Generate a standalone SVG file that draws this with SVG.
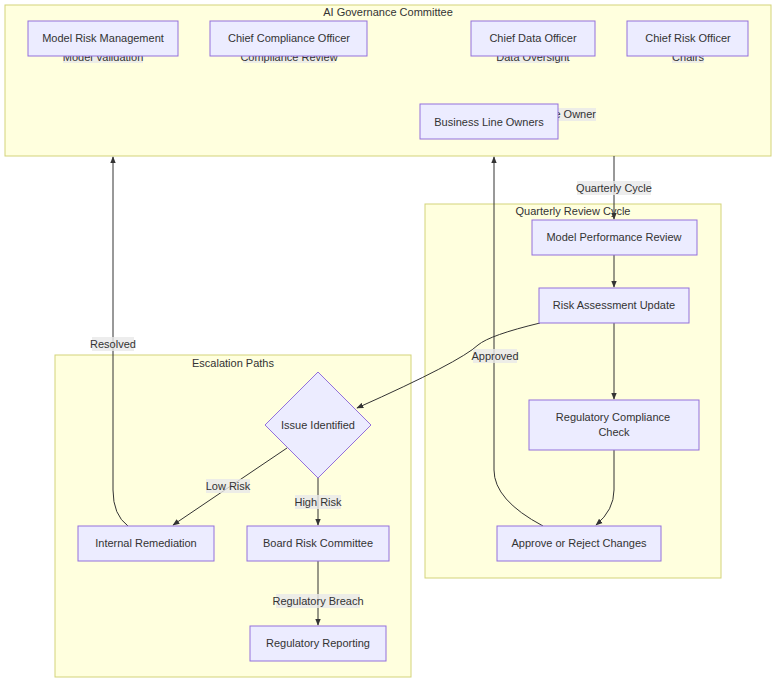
<svg xmlns="http://www.w3.org/2000/svg" width="784" height="690" viewBox="0 0 784 690">
<style>
text{font-family:"Liberation Sans",Arial,sans-serif;font-size:11px;fill:#333;text-anchor:middle;dominant-baseline:central}
.cl{fill:#ffffde;stroke:#d3d37a;stroke-width:1}
.n rect,.n polygon{fill:#ececff;stroke:#9370db;stroke-width:1}
.e{fill:none;stroke:#333;stroke-width:1}
.lb{fill:#e8e8e8;opacity:0.8}
</style>
<defs><marker id="a" viewBox="0 0 10 10" refX="9" refY="5" markerWidth="7" markerHeight="7" orient="auto"><path d="M0,1L10,5L0,9z" fill="#333"/></marker></defs>
<g id="clusters">
<rect class="cl" x="5" y="5" width="766" height="151"/><text x="388" y="12">AI Governance Committee</text>
<rect class="cl" x="425" y="204" width="296" height="374"/><text x="573" y="211">Quarterly Review Cycle</text>
<rect class="cl" x="55" y="355" width="356" height="322"/><text x="233" y="363">Escalation Paths</text>
</g>
<g id="hidden-labels">
<rect class="lb" x="63" y="51" width="80" height="12"/><text x="103" y="57">Model Validation</text>
<rect class="lb" x="243" y="51" width="92" height="12"/><text x="289" y="57">Compliance Review</text>
<rect class="lb" x="497" y="51" width="72" height="12"/><text x="533" y="57">Data Oversight</text>
<rect class="lb" x="672" y="51" width="32" height="12"/><text x="688" y="57">Chairs</text>
<rect class="lb" x="540" y="108" width="56" height="13"/><text x="596" y="114" style="text-anchor:end">e Owner</text>
</g>
<g id="connectors">
<path class="e" d="M614,156V219" marker-end="url(#a)"/>
<path class="e" d="M614,255V287" marker-end="url(#a)"/>
<path class="e" d="M614,323V399" marker-end="url(#a)"/>
<path class="e" d="M614,450V490Q614,510 596,525" marker-end="url(#a)"/>
<path class="e" d="M543,526Q494,500 494,470V157" marker-end="url(#a)"/>
<path class="e" d="M540,323Q490,335 478,345Q460,362 357,408" marker-end="url(#a)"/>
<path class="e" d="M287,448L173,525" marker-end="url(#a)"/>
<path class="e" d="M318,478V525" marker-end="url(#a)"/>
<path class="e" d="M318,561V625" marker-end="url(#a)"/>
<path class="e" d="M128,526Q113,515 113,490V157" marker-end="url(#a)"/>
<rect class="lb" x="577" y="181" width="74" height="14"/><text x="614" y="188">Quarterly Cycle</text>
<rect class="lb" x="473" y="349" width="44" height="14"/><text x="495" y="356">Approved</text>
<rect class="lb" x="206" y="479" width="44" height="14"/><text x="228" y="486">Low Risk</text>
<rect class="lb" x="295" y="495" width="46" height="14"/><text x="318" y="502">High Risk</text>
<rect class="lb" x="276" y="594" width="84" height="14"/><text x="318" y="601">Regulatory Breach</text>
<rect class="lb" x="92" y="337" width="42" height="14"/><text x="113" y="344">Resolved</text>
</g>
<g id="mrm" class="n"><rect x="28" y="21" width="150" height="35"/><text x="103" y="38">Model Risk Management</text></g>
<g id="cco" class="n"><rect x="210" y="21" width="157" height="35"/><text x="289" y="38">Chief Compliance Officer</text></g>
<g id="cdo" class="n"><rect x="471" y="21" width="124" height="35"/><text x="533" y="38">Chief Data Officer</text></g>
<g id="cro" class="n"><rect x="627" y="21" width="121" height="35"/><text x="688" y="38">Chief Risk Officer</text></g>
<g id="blo" class="n"><rect x="420" y="104" width="138" height="35"/><text x="489" y="122">Business Line Owners</text></g>
<g id="mpr" class="n"><rect x="532" y="220" width="165" height="35"/><text x="614" y="237">Model Performance Review</text></g>
<g id="rau" class="n"><rect x="539" y="288" width="150" height="35"/><text x="614" y="305">Risk Assessment Update</text></g>
<g id="rcc" class="n"><rect x="529" y="400" width="170" height="50"/><text x="613" y="417">Regulatory Compliance</text><text x="614" y="432">Check</text></g>
<g id="arc" class="n"><rect x="497" y="526" width="164" height="35"/><text x="579" y="543">Approve or Reject Changes</text></g>
<g id="issue" class="n"><polygon points="318,372 371,425 318,478 265,425"/><text x="318" y="425">Issue Identified</text></g>
<g id="ir" class="n"><rect x="78" y="526" width="136" height="35"/><text x="146" y="543">Internal Remediation</text></g>
<g id="brc" class="n"><rect x="247" y="526" width="142" height="35"/><text x="318" y="543">Board Risk Committee</text></g>
<g id="rr" class="n"><rect x="250" y="626" width="136" height="35"/><text x="318" y="643">Regulatory Reporting</text></g>
</svg>
